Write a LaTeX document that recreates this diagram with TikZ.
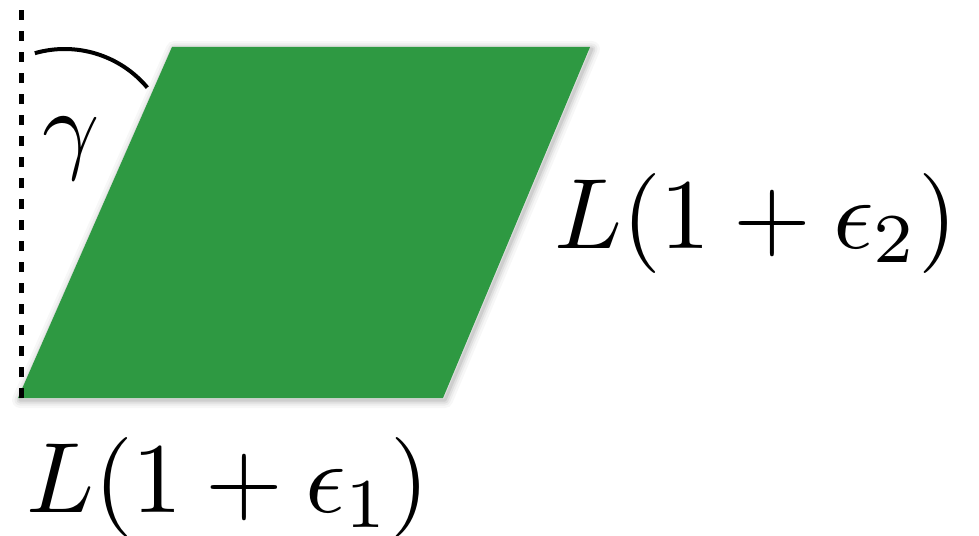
\documentclass[tikz,border=0pt]{standalone}
\definecolor{sheetgreen}{RGB}{46,153,66}
\tikzset{
  bigmath/.style={inner sep=0pt, scale=10},
  axisline/.style={line width=5pt, dash pattern=on 10pt off 11pt},
  anglearc/.style={line width=4pt, line cap=butt},
}
\begin{document}
\begin{tikzpicture}[x=1pt,y=-1pt]
\useasboundingbox (0,0) rectangle (979,535);
\coordinate (BL) at (18,398);
\coordinate (BR) at (443,398);
\coordinate (TR) at (590,47);
\coordinate (TL) at (172,47);
% soft shadow
\foreach \w/\o in {16/0.03,11/0.04,7/0.06,3/0.08}{
  \draw[line width=\w pt, black, opacity=\o, line join=round]
    ([shift={(2,2)}]BL) -- ([shift={(2,2)}]BR) -- ([shift={(2,2)}]TR) -- ([shift={(2,2)}]TL) -- cycle;
}
\fill[sheetgreen] (BL) -- (BR) -- (TR) -- (TL) -- cycle;
% vertical dashed reference line
\coordinate (axbot) at (21,398);
\coordinate (axtop) at (21,0);
\draw[axisline] (axbot) -- (axtop);
% angle arc
\coordinate (arcc) at (64.6,157);
\draw[anglearc] ([shift={(-106:108)}]arcc) arc[start angle=-106, end angle=-40, radius=108];
% labels
\node[bigmath, anchor=base west] (gam) at (40,160) {$\gamma$};
\node[bigmath, anchor=base west] (lab2) at (552,248) {$L(1+\epsilon_2)$};
\node[bigmath, anchor=base west] (lab1) at (24,512) {$L(1+\epsilon_1)$};
\end{tikzpicture}
\end{document}
